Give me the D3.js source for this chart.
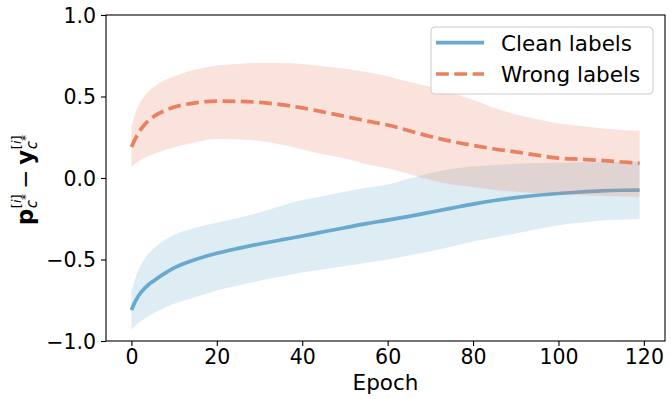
<!DOCTYPE html>
<html>
<head>
<meta charset="utf-8">
<script src="https://cdn.jsdelivr.net/npm/d3@7"></script>
<style>
  body { margin: 0; background: #fff; }
  svg { display: block; font-family: "DejaVu Sans", sans-serif; }
</style>
</head>
<body>
<div id="chart"></div>
<script>
// epochs
const epochs = [0,1,2,3,4,5,6,8,10,12,15,20,25,30,35,40,45,50,55,60,65,70,75,80,85,90,95,100,105,110,115,119];

const cleanMean = [-0.81,-0.752,-0.71,-0.68,-0.655,-0.635,-0.616,-0.582,-0.552,-0.528,-0.5,-0.462,-0.432,-0.405,-0.38,-0.356,-0.33,-0.305,-0.28,-0.258,-0.235,-0.21,-0.185,-0.16,-0.138,-0.12,-0.106,-0.095,-0.086,-0.079,-0.075,-0.074];
const cleanUpper = [-0.70,-0.61,-0.545,-0.5,-0.465,-0.437,-0.415,-0.378,-0.35,-0.328,-0.305,-0.275,-0.245,-0.212,-0.172,-0.135,-0.11,-0.085,-0.06,-0.04,-0.005,0.03,0.055,0.07,0.08,0.087,0.092,0.094,0.096,0.097,0.099,0.10];
const cleanLower = [-0.93,-0.905,-0.882,-0.865,-0.848,-0.833,-0.818,-0.793,-0.772,-0.755,-0.73,-0.69,-0.66,-0.63,-0.605,-0.58,-0.56,-0.54,-0.52,-0.50,-0.475,-0.45,-0.42,-0.39,-0.365,-0.34,-0.315,-0.29,-0.275,-0.26,-0.255,-0.25];

const wrongMean = [0.19,0.245,0.29,0.325,0.352,0.373,0.39,0.415,0.435,0.448,0.461,0.472,0.47,0.464,0.45,0.43,0.405,0.378,0.35,0.325,0.29,0.255,0.225,0.20,0.178,0.16,0.14,0.122,0.115,0.108,0.098,0.09];
const wrongUpper = [0.31,0.405,0.462,0.5,0.53,0.553,0.572,0.602,0.625,0.643,0.665,0.69,0.70,0.707,0.705,0.70,0.685,0.67,0.65,0.625,0.59,0.56,0.52,0.48,0.43,0.39,0.36,0.335,0.32,0.305,0.295,0.29];
const wrongLower = [0.07,0.09,0.108,0.122,0.134,0.145,0.155,0.173,0.188,0.202,0.22,0.24,0.238,0.227,0.205,0.175,0.145,0.12,0.085,0.06,0.025,-0.012,-0.04,-0.055,-0.074,-0.085,-0.093,-0.098,-0.105,-0.11,-0.113,-0.115];

const xTicks = [0,20,40,60,80,100,120];
const yTicks = [-1.0,-0.5,0.0,0.5,1.0];
const seriesNames = ["Clean labels", "Wrong labels"];

const width = 671, height = 399;
const mLeft = 106, mRight = 665, mTop = 15, mBottom = 341;
const blue = "#67a9cf", orange = "#e9805f";

const svg = d3.select("#chart").append("svg")
    .attr("width", width)
    .attr("height", height);

// matplotlib style 5% margin on x
const x = d3.scaleLinear().domain([-5.95, 124.95]).range([mLeft, mRight]);
const y = d3.scaleLinear().domain([-1, 1]).range([mBottom, mTop]);

const clean = epochs.map((e, i) => ({e: e, m: cleanMean[i], lo: cleanLower[i], hi: cleanUpper[i]}));
const wrong = epochs.map((e, i) => ({e: e, m: wrongMean[i], lo: wrongLower[i], hi: wrongUpper[i]}));

const band = d3.area()
    .x(d => x(d.e))
    .y0(d => y(d.lo))
    .y1(d => y(d.hi))
    .curve(d3.curveMonotoneX);
const line = d3.line()
    .x(d => x(d.e))
    .y(d => y(d.m))
    .curve(d3.curveMonotoneX);

const plot = svg.append("g");

plot.append("path").datum(clean)
    .attr("d", band)
    .attr("fill", blue).attr("fill-opacity", 0.22);
plot.append("path").datum(clean)
    .attr("d", line)
    .attr("fill", "none").attr("stroke", blue).attr("stroke-width", 3.7);

plot.append("path").datum(wrong)
    .attr("d", band)
    .attr("fill", orange).attr("fill-opacity", 0.22);
plot.append("path").datum(wrong)
    .attr("d", line)
    .attr("fill", "none").attr("stroke", orange).attr("stroke-width", 3.7)
    .attr("stroke-dasharray", "12.8,5.5");

// axes
const xAxis = svg.append("g")
    .attr("transform", `translate(0,${mBottom})`)
    .call(d3.axisBottom(x).tickValues(xTicks).tickSize(5).tickPadding(3.5).tickFormat(d3.format("d")));
const yAxis = svg.append("g")
    .attr("transform", `translate(${mLeft},0)`)
    .call(d3.axisLeft(y).tickValues(yTicks).tickSize(5).tickPadding(5)
        .tickFormat(d => d < 0 ? "\u2212" + Math.abs(d).toFixed(1) : d.toFixed(1)));

[xAxis, yAxis].forEach(a => {
    a.select(".domain").remove();
    a.selectAll(".tick line").attr("stroke", "#000").attr("stroke-width", 1.1);
    a.selectAll(".tick text").attr("fill", "#000")
        .style("font-family", "DejaVu Sans").style("font-size", "20.5px");
});
yAxis.selectAll(".tick text").attr("dy", "0.36em");

// frame
svg.append("rect")
    .attr("x", mLeft).attr("y", mTop)
    .attr("width", mRight - mLeft).attr("height", mBottom - mTop)
    .attr("fill", "none").attr("stroke", "#000").attr("stroke-width", 1.1);

// x label
svg.append("text")
    .attr("x", (mLeft + mRight) / 2).attr("y", 390)
    .attr("text-anchor", "middle")
    .style("font-size", "21.5px")
    .text("Epoch");

// y label: bold p and y with stacked sub/superscripts
const yl = svg.append("g").attr("transform", "translate(33,180) rotate(-90)");
const inner = yl.append("g");
let u = 0;
function put(txt, size, dy, opts) {
    const t = inner.append("text")
        .attr("x", u).attr("y", dy)
        .style("font-size", size + "px")
        .style("font-weight", opts && opts.bold ? "bold" : "normal")
        .style("font-style", opts && opts.italic ? "italic" : "normal")
        .text(txt);
    return t.node().getComputedTextLength();
}
function symbol(letter) {
    u += put(letter, 23, 0, {bold: true}) + 0.5;
    const start = u;
    // superscript [i]
    u += put("[", 13, -12);
    u += put("i", 13, -12, {italic: true});
    u += put("]", 13, -12);
    const supEnd = u;
    u = start;
    // subscript c*
    u += put("c", 15, 4, {italic: true});
    u += put("*", 12, -3);
    u = Math.max(u, supEnd);
}
symbol("p");
u += 5;
u += put("\u2212", 23, 0);
u += 5;
symbol("y");
inner.attr("transform", `translate(${-u / 2},0)`);

// legend
const lg = svg.append("g");
lg.append("rect")
    .attr("x", 431).attr("y", 27).attr("width", 222).attr("height", 67)
    .attr("rx", 4)
    .attr("fill", "#fff").attr("fill-opacity", 0.8)
    .attr("stroke", "#cccccc").attr("stroke-width", 1);
const legendItems = [
    {name: seriesNames[0], color: blue, dash: null, y: 42.7},
    {name: seriesNames[1], color: orange, dash: "12.8,5.5", y: 74}
];
legendItems.forEach(d => {
    lg.append("line")
        .attr("x1", 436).attr("x2", 484)
        .attr("y1", d.y).attr("y2", d.y)
        .attr("stroke", d.color).attr("stroke-width", 3.7)
        .attr("stroke-dasharray", d.dash);
    lg.append("text")
        .attr("x", 501).attr("y", d.y + 8)
        .style("font-size", "21.5px")
        .text(d.name);
});
</script>
</body>
</html>
